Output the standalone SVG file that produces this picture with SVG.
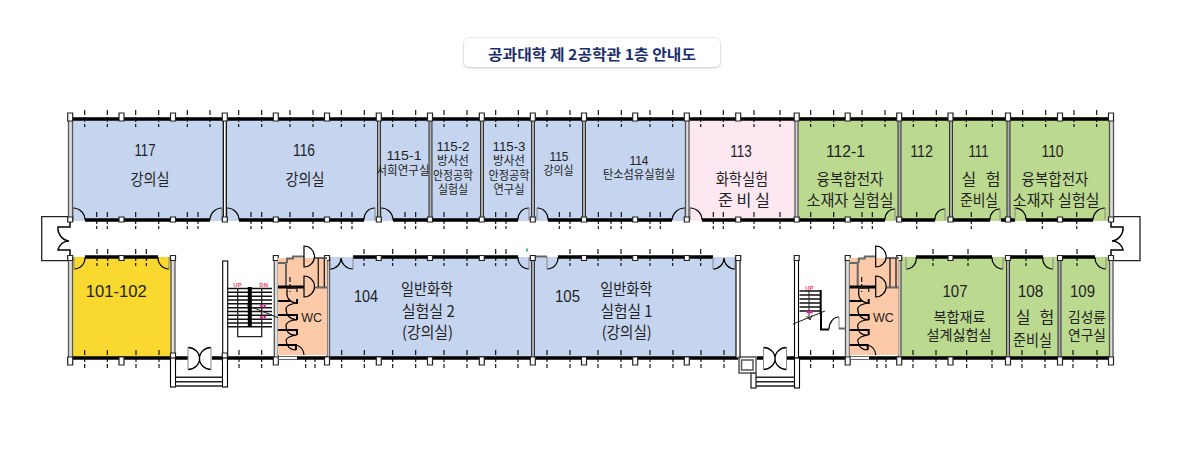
<svg xmlns="http://www.w3.org/2000/svg" width="1183" height="450" viewBox="0 0 1183 450">
<style>
text{font-family:"Noto Sans CJK KR","Liberation Sans",sans-serif;fill:#222;text-anchor:middle}
.l{font-size:16px}.m{font-size:14px}.s{font-size:12px}
.num{font-family:"Liberation Sans","Noto Sans CJK KR",sans-serif;font-size:16px}
.nums{font-family:"Liberation Sans","Noto Sans CJK KR",sans-serif;font-size:13px}
.blue{fill:#c6d5ef}.pink{fill:#fde8f2}.green{fill:#bbd98f}.yellow{fill:#f9d82f}.orange{fill:#fcc9a9}
.wall{fill:none;stroke:#000;stroke-width:3.4}
.tick{fill:none;stroke:#000;stroke-width:1.1;stroke-dasharray:5 2}
.box{fill:#fff;stroke:#222;stroke-width:1.2}
.part{fill:#aaa;stroke:#333;stroke-width:1}
.side{fill:#ddd;stroke:#555;stroke-width:1.3}
.post{fill:#fff;stroke:#000;stroke-width:1.1}
.door{fill:none;stroke:#000;stroke-width:1.2}
.leaf{fill:none;stroke:#888;stroke-width:1}
.thin{fill:none;stroke:#222;stroke-width:1.3}
.gw{fill:none;stroke:#666;stroke-width:2}
.bw{fill:none;stroke:#000;stroke-width:2}
.tread{fill:none;stroke:#111;stroke-width:1.4}
.red{font-family:"Liberation Sans",sans-serif;font-size:6px;font-weight:bold}
.pm{fill:#e0209a}
</style>
<defs>
<filter id="sh" x="-5%" y="-20%" width="110%" height="140%"><feDropShadow dx="0" dy="0.5" stdDeviation="1.2" flood-color="#888" flood-opacity="0.7"/></filter>
<g id="wc-plan">
<rect class="orange" x="278" y="258" width="49" height="97"/>
<path class="gw" d="M278 263H286V287"/>
<path class="gw" d="M287 263V258.500H293V256.500H304M315 258H327M315 287.500H327"/>
<path class="thin" d="M318.300 258V287M324.300 258V287"/>
<path class="bw" style="stroke-width:3" d="M278 287H304"/>
<path class="door" d="M304 246V267A10.500 10.500 0 0 0 304 246ZM304 276V297A10.500 10.500 0 0 0 304 276Z"/>
<path class="tick" d="M290 277V292"/>
<path class="thin" d="M287 292V288H297V292"/>
<path class="bw" d="M278 301H290M297 299V304M278 315H297V320M278 330H297V335M278 345H296V350"/>
<path class="door" d="M287 291Q286 302 297 303Q288 304 286 308Q286 319 297 320Q288 320 286 325Q286 336 297 335Q288 336 286 340Q287 350 296 350M296 345A11 11 0 0 1 304 355"/>
<path class="gw" style="stroke-width:1" d="M278 356.500H297M278 359.500H297"/>
</g>
</defs>

<g id="title">
<rect x="464" y="38" width="256" height="29" rx="5" fill="#fff" filter="url(#sh)"/>
<text x="592" y="60" font-size="15" font-weight="700" style="fill:#1b2f70" textLength="208" lengthAdjust="spacingAndGlyphs">공과대학 제 2공학관 1층 안내도</text>
</g>

<g id="room-fills">
<rect class="blue" x="72" y="118" width="616" height="103"/>
<rect class="pink" x="688" y="118" width="109" height="103"/>
<rect class="green" x="797" y="117" width="314" height="104"/>
<rect class="yellow" x="72" y="257" width="100" height="101"/>
<rect class="blue" x="329" y="257" width="409" height="101"/>
<rect class="green" x="901" y="257" width="209" height="101"/>
</g>

<g id="connectors">
<path class="wall" d="M68 119H1111"/>
<path class="wall" d="M85 220H210M239 220H364M393 220H518M548 220H672M702 220H885M897 220H935M950 220H990M1001 220H1015M1026 220H1093"/>
<path class="wall" d="M85 257H158M353 257H518M558 257H713M916 257H992M1007 257H1043M1057 257H1095"/>
<path class="wall" d="M68 358H188M212 358H274M297 358H738M757 358H763M787 358H847M869 358H1111"/>
<path class="tick" d="M84.700 110V127M107.300 110V127M135.700 110V127M158.700 110V127M187.300 110V127M210 110V127M238.700 110V127M261.700 110V127M290 110V127M313 110V127M341.300 110V127M364.300 110V127M392.700 110V127M415.700 110V127M444 110V127M467 110V127M495.700 110V127M518.300 110V127M547 110V127M570 110V127M598.300 110V127M621.300 110V127M650 110V127M672.700 110V127M700.700 110V127M723.300 110V127M754 110V127M780 110V127M810.700 110V127M833.700 110V127M862 110V127M885 110V127M913.300 110V127M936.300 110V127M966.300 110V127M992.300 110V127M1022.700 110V127M1045.700 110V127M1074 110V127M1096.700 110V127"/>
<path class="tick" d="M96.700 212V229M107.300 212V229M135.700 212V229M158.700 212V229M187.300 212V229M198 212V229M251 212V229M261.700 212V229M290 212V229M313 212V229M341.300 212V229M352 212V229M405 212V229M415.700 212V229M444 212V229M467 212V229M495.700 212V229M506 212V229M559.300 212V229M570 212V229M598.300 212V229M611 212V229M621.300 212V229M650 212V229M660.300 212V229M713.300 212V229M723.300 212V229M754 212V229M780 212V229M810.700 212V229M833.700 212V229M862 212V229M872.300 212V229M916.700 212V229M971.300 212V229M1042.300 212V229M1076.700 212V229"/>
<path class="tick" d="M97 249V266M107.700 249V266M135.700 249V266M146.300 249V266M364 249V266M392.700 249V266M415.700 249V266M444 249V266M467 249V266M495.700 249V266M506 249V266M570 249V266M598 249V266M621 249V266M650 249V266M672.700 249V266M700.700 249V266M933 249V266M968 249V266M1026 249V266M1077 249V266"/>
<path class="tick" d="M84.700 350V368M107.300 350V368M136 350V368M159 350V368M239 350V368M261.700 350V368M305.700 350V368M315 350V368M341.700 350V368M364.300 350V368M392.700 350V368M415.700 350V368M444 350V368M467 350V368M495.700 350V368M518 350V368M547 350V368M570 350V368M598 350V368M621 350V368M650 350V368M673 350V368M701 350V368M724 350V368M810.700 350V368M833.300 350V368M877 350V368M886 350V368M913 350V368M936 350V368M966.700 350V368M992 350V368M1022 350V368M1045 350V368M1073 350V368M1097 350V368"/>
<path class="door" d="M73 208A12 12 0 0 1 85 220M227 208A12 12 0 0 1 239 220M381 208A12 12 0 0 1 393 220M537 208A11 11 0 0 1 548 220M690 208A12 12 0 0 1 702 220M1015 208A11 11 0 0 1 1026 220M210 220A12 12 0 0 1 222 208M364 220A11 11 0 0 1 375 208M518 220A11 11 0 0 1 529 208M672 220A13 13 0 0 1 685 208M885 220A10 10 0 0 1 895 209M935 220A10 10 0 0 1 945 209M990 220A10 10 0 0 1 1000 209M1093 220A12 12 0 0 1 1105 208"/>
<path class="leaf" d="M73 208V220M227 208V220M381 208V220M537 208V220M690 208V220M1015 208V220M222 208V220M375 208V220M529 208V220M685 208V220M895 209V220M945 209V220M1000 209V220M1105 208V220"/>
<path class="door" d="M74 269A11 11 0 0 0 85 257M158 257A11 11 0 0 0 169 269M330 269A11 11 0 0 0 341 258M341 258A12 12 0 0 0 353 269M713 269A11 11 0 0 0 724 258M724 258A11 11 0 0 0 735 269M518 257A11 11 0 0 0 529 269M547 269A11 11 0 0 0 558 257M906 269A10 10 0 0 0 916 257M992 257A11 11 0 0 0 1003 269M1043 257A10 10 0 0 0 1053 269M1095 257A11 11 0 0 0 1106 269"/>
<path class="leaf" d="M74 257V269M169 257V269M330 257V269M353 257V269M713 257V269M735 257V269M529 257V269M547 257V269M906 257V269M1003 257V269M1053 257V269M1106 257V269"/>
<path class="gw" d="M534 256.500H547"/>
<rect x="526" y="248.500" width="2" height="3" fill="#3cc47c"/>
</g>

<g id="corridor-ends">
<path class="thin" d="M70 216.700H41.700V260.700H70"/>
<path class="door" style="stroke-width:1.500" d="M70 222V227H58A13 13 0 0 0 69 241A11 11 0 0 0 58 250H70V256"/>
<path class="thin" d="M1111 216.700H1140V260.700H1111"/>
<path class="door" style="stroke-width:1.500" d="M1111 222V227H1123A13 13 0 0 1 1112 241A11 11 0 0 1 1123 250H1111V256"/>
</g>

<g id="partitions">
<rect class="side" x="68.500" y="120" width="4" height="100"/>
<rect class="side" x="1109.500" y="120" width="4" height="100"/>
<rect class="box" x="223.300" y="120" width="3" height="99" style="stroke:#000"/>
<rect class="part" x="377.500" y="120" width="3" height="99"/>
<rect class="part" x="429" y="120" width="3" height="99"/>
<rect class="part" x="480.500" y="120" width="3" height="99"/>
<rect class="part" x="531.500" y="120" width="3" height="99"/>
<rect class="part" x="582.500" y="120" width="3" height="99"/>
<rect class="side" x="685.500" y="120" width="3.500" height="99"/>
<rect class="side" x="795" y="120" width="3" height="99"/>
<rect class="part" x="898" y="120" width="3" height="99"/>
<rect class="part" x="949.500" y="120" width="3" height="99"/>
<rect class="part" x="1007" y="120" width="3" height="99"/>
<rect class="side" x="68.500" y="259" width="4" height="99"/>
<rect class="side" x="171" y="259" width="4" height="99"/>
<rect class="post" x="222.700" y="261" width="5" height="97"/>
<rect class="side" x="274.300" y="259" width="4" height="99"/>
<rect class="side" x="327" y="259" width="2.500" height="99"/>
<rect class="part" x="531.500" y="259" width="3" height="99"/>
<rect class="post" x="736" y="259" width="4" height="99"/>
<rect class="post" x="794.500" y="259" width="4" height="99"/>
<rect class="side" x="845.500" y="259" width="4" height="99"/>
<rect class="side" x="898.500" y="259" width="2.500" height="99"/>
<rect class="part" x="1006.500" y="259" width="3" height="99"/>
<rect class="part" x="1058" y="259" width="3" height="99"/>
<rect class="side" x="1109.500" y="259" width="3.500" height="99"/>
</g>

<g id="posts">
<path class="box" d="M67.700 113h5v8h-5zM119 113h5v8h-5zM170.500 113h5v8h-5zM222.300 113h5v8h-5zM273.300 113h5v8h-5zM324.500 113h5v8h-5zM376.300 113h5v8h-5zM427.500 113h5v8h-5zM479.300 113h5v8h-5zM530.300 113h5v8h-5zM581.500 113h5v8h-5zM632.700 113h5v8h-5zM684.300 113h5v8h-5zM735.700 113h5v8h-5zM794.200 113h5v8h-5zM845.200 113h5v8h-5zM896.700 113h5v8h-5zM948 113h5v8h-5zM1005.500 113h5v8h-5zM1057.500 113h5v8h-5zM1108.500 113h5v8h-5z"/>
<path class="box" d="M67.700 217h5v5h-5zM119 217h5v5h-5zM170.500 217h5v5h-5zM222.300 217h5v5h-5zM273.300 217h5v5h-5zM324.500 217h5v5h-5zM376.300 217h5v5h-5zM427.500 217h5v5h-5zM479.300 217h5v5h-5zM530.300 217h5v5h-5zM581.500 217h5v5h-5zM632.700 217h5v5h-5zM684.300 217h5v5h-5zM735.700 217h5v5h-5zM794.200 217h5v5h-5zM845.200 217h5v5h-5zM896.700 217h5v5h-5zM948 217h5v5h-5zM1005.500 217h5v5h-5zM1057.500 217h5v5h-5zM1108.500 217h5v5h-5z"/>
<path class="box" d="M67.700 255.500h5v5h-5zM119 255.500h5v5h-5zM170.500 255.500h5v5h-5zM273.300 255.500h5v5h-5zM324.500 255.500h5v5h-5zM376.300 255.500h5v5h-5zM427.500 255.500h5v5h-5zM479.300 255.500h5v5h-5zM530.300 255.500h5v5h-5zM581.500 255.500h5v5h-5zM632.700 255.500h5v5h-5zM684.300 255.500h5v5h-5zM735.700 255.500h5v5h-5zM794.200 255.500h5v5h-5zM845.200 255.500h5v5h-5zM896.700 255.500h5v5h-5zM948 255.500h5v5h-5zM1005.500 255.500h5v5h-5zM1057.500 255.500h5v5h-5zM1108.500 255.500h5v5h-5z"/>
<path class="box" d="M67.700 357h5v8h-5zM119 357h5v8h-5zM170.500 353h5v8h-5zM222.300 353h5v8h-5zM273.300 357h5v8h-5zM324.500 357h5v8h-5zM376.300 357h5v8h-5zM427.500 357h5v8h-5zM479.300 357h5v8h-5zM530.300 357h5v8h-5zM581.500 357h5v8h-5zM632.700 357h5v8h-5zM684.300 357h5v8h-5zM845.200 357h5v8h-5zM896.700 357h5v8h-5zM948 357h5v8h-5zM1005.500 357h5v8h-5zM1057.500 357h5v8h-5zM1108.500 357h5v8h-5z"/>
</g>

<g id="entrance-west">
<rect class="post" x="170.500" y="358" width="5" height="29"/>
<rect class="post" x="222.500" y="358" width="5" height="29"/>
<path class="thin" style="stroke-width:1.500" d="M175 377.300H222M175 381.700H222M175 386H222"/>
<path class="door" style="stroke-width:1.300" d="M188 347.500A11.500 11 0 0 1 188 369.500M211 347.500A11.500 11 0 0 0 211 369.500"/>
<path class="leaf" d="M188 347.500V369.500M211 347.500V369.500"/>
</g>

<g id="entrance-east">
<rect class="post" x="751" y="373" width="5" height="15"/>
<rect class="post" x="794.500" y="358" width="5" height="30"/>
<path class="thin" style="stroke-width:1.500" d="M756 377.300H794M756 381.700H794M756 386H794"/>
<path class="door" style="stroke-width:1.300" d="M763.500 347.500A11.500 11 0 0 1 763.500 369.500M786.500 347.500A11.500 11 0 0 0 786.500 369.500"/>
<path class="leaf" d="M763.500 347.500V369.500M786.500 347.500V369.500"/>
<path fill="none" stroke="#555" stroke-width="1.500" d="M738 357H756V373H739V358M741.500 360V370H753V360Z"/>
</g>

<g id="stair-west">
<path class="tread" d="M228 288.500H272M228 292.300H272M228 296.200H272M228 300H272M228 303.800H272M228 307.700H272M228 311.500H272M228 315.300H272M228 319.200H272M228 323H272M228 326.800H272"/>
<path class="thin" d="M237.700 288V336.700H261.700V288"/>
<rect x="247.800" y="287" width="4" height="40" fill="#000"/>
<path class="thin" style="stroke-width:1" d="M246.700 305L278 317.700"/>
<rect class="pm" x="260" y="305" width="2.300" height="2.300"/><rect class="pm" x="263.500" y="305" width="2.300" height="2.300"/>
<rect class="pm" x="260" y="316" width="2.300" height="2.300"/><rect class="pm" x="263.500" y="316" width="2.300" height="2.300"/>
<text class="red" style="fill:#f04a5e" x="237.500" y="287">UP</text>
<text class="red" style="fill:#f04a5e" x="263.700" y="287">DN</text>
</g>

<g id="stair-east">
<path class="tread" d="M799.500 291H820M799.500 295H820M799.500 299H820M799.500 303H820M799.500 307H820M799.500 311H820"/>
<path class="bw" d="M820.700 290V315"/>
<path class="thin" style="stroke-width:1" d="M809 290V319M793 324L825 311M806.500 316L810 320L812 315"/>
<rect class="pm" x="806.700" y="311" width="6" height="2.300"/>
<path class="bw" d="M821 311V329.500H829"/>
<path class="door" d="M829 329A10 12 0 0 1 839 317"/>
<path class="leaf" d="M839 317V329"/>
<path class="gw" d="M839 328.500H846"/>
<text class="red" style="fill:#f04a5e" x="809.300" y="290">UP</text>
</g>

<g id="wc-west"><use href="#wc-plan"/><text x="311.700" y="321.500" font-size="12.500" style="font-family:'Liberation Sans',sans-serif">WC</text></g>
<g id="wc-east"><use href="#wc-plan" transform="translate(571.700 0)"/><text x="883.400" y="321.500" font-size="12.500" style="font-family:'Liberation Sans',sans-serif">WC</text></g>

<g id="room-117"><text class="num" x="145" y="156" textLength="21" lengthAdjust="spacingAndGlyphs">117</text><text class="l" x="150" y="185" textLength="39" lengthAdjust="spacingAndGlyphs">강의실</text></g>
<g id="room-116"><text class="num" x="304" y="156" textLength="22" lengthAdjust="spacingAndGlyphs">116</text><text class="l" x="305" y="185" textLength="39" lengthAdjust="spacingAndGlyphs">강의실</text></g>
<g id="room-115-1"><text class="nums" x="404" y="160" textLength="35" lengthAdjust="spacingAndGlyphs">115-1</text><text class="s" x="403" y="175" textLength="53" lengthAdjust="spacingAndGlyphs">서희연구실</text></g>
<g id="room-115-2"><text class="nums" x="453" y="151" textLength="33" lengthAdjust="spacingAndGlyphs">115-2</text><text class="s" x="453" y="165" textLength="32" lengthAdjust="spacingAndGlyphs">방사선</text><text class="s" x="453" y="180" textLength="40" lengthAdjust="spacingAndGlyphs">안정공학</text><text class="s" x="453" y="194" textLength="30" lengthAdjust="spacingAndGlyphs">실험실</text></g>
<g id="room-115-3"><text class="nums" x="509" y="151" textLength="33" lengthAdjust="spacingAndGlyphs">115-3</text><text class="s" x="509" y="165" textLength="32" lengthAdjust="spacingAndGlyphs">방사선</text><text class="s" x="509" y="180" textLength="41" lengthAdjust="spacingAndGlyphs">안정공학</text><text class="s" x="509" y="194" textLength="31" lengthAdjust="spacingAndGlyphs">연구실</text></g>
<g id="room-115"><text class="nums" x="559" y="161" textLength="19" lengthAdjust="spacingAndGlyphs">115</text><text class="s" x="558.500" y="175" textLength="30" lengthAdjust="spacingAndGlyphs">강의실</text></g>
<g id="room-114"><text class="nums" x="639" y="165" textLength="19" lengthAdjust="spacingAndGlyphs">114</text><text class="s" x="639" y="179" textLength="72" lengthAdjust="spacingAndGlyphs">탄소섬유실험실</text></g>
<g id="room-113"><text class="num" x="741" y="156.500" textLength="21.500" lengthAdjust="spacingAndGlyphs">113</text><text class="l" x="742" y="185" textLength="52.500" lengthAdjust="spacingAndGlyphs">화학실험</text><text class="l" x="744" y="206" textLength="52" lengthAdjust="spacingAndGlyphs">준 비 실</text></g>
<g id="room-112-1"><text class="num" x="845.500" y="156.500" textLength="39" lengthAdjust="spacingAndGlyphs">112-1</text><text class="l" x="850" y="185" textLength="67" lengthAdjust="spacingAndGlyphs">융복합전자</text><text class="l" x="850" y="206" textLength="87" lengthAdjust="spacingAndGlyphs">소재자 실험실</text></g>
<g id="room-112"><text class="num" x="921.500" y="156.500" textLength="22.500" lengthAdjust="spacingAndGlyphs">112</text></g>
<g id="room-111"><text class="num" x="978.500" y="156.500" textLength="20" lengthAdjust="spacingAndGlyphs">111</text><text class="l" x="981" y="185" textLength="39" lengthAdjust="spacing" xml:space="preserve">실  험</text><text class="l" x="979" y="206" textLength="38" lengthAdjust="spacingAndGlyphs">준비실</text></g>
<g id="room-110"><text class="num" x="1052.500" y="156.500" textLength="22" lengthAdjust="spacingAndGlyphs">110</text><text class="l" x="1055" y="185" textLength="67" lengthAdjust="spacingAndGlyphs">융복합전자</text><text class="l" x="1056" y="206" textLength="87" lengthAdjust="spacingAndGlyphs">소재자 실험실</text></g>
<g id="room-101-102"><text class="num" x="116.300" y="296.500" textLength="61" lengthAdjust="spacingAndGlyphs">101-102</text></g>
<g id="room-104"><text class="num" x="366" y="301.500" textLength="24" lengthAdjust="spacingAndGlyphs">104</text><text class="l" x="427" y="295" textLength="52" lengthAdjust="spacingAndGlyphs">일반화학</text><text class="l" x="428.300" y="317" textLength="53" lengthAdjust="spacingAndGlyphs">실험실 2</text><text class="l" x="427.500" y="338" textLength="51" lengthAdjust="spacingAndGlyphs">(강의실)</text></g>
<g id="room-105"><text class="num" x="567.500" y="301.500" textLength="25" lengthAdjust="spacingAndGlyphs">105</text><text class="l" x="626.300" y="295" textLength="52" lengthAdjust="spacingAndGlyphs">일반화학</text><text class="l" x="626.500" y="317" textLength="52" lengthAdjust="spacingAndGlyphs">실험실 1</text><text class="l" x="626.700" y="338" textLength="50" lengthAdjust="spacingAndGlyphs">(강의실)</text></g>
<g id="room-107"><text class="num" x="955" y="296.500" textLength="25" lengthAdjust="spacingAndGlyphs">107</text><text class="m" x="959.500" y="321.500" textLength="52" lengthAdjust="spacingAndGlyphs">복합재료</text><text class="m" x="959" y="340" textLength="65" lengthAdjust="spacingAndGlyphs">설계싫험실</text></g>
<g id="room-108"><text class="num" x="1030.500" y="296.500" textLength="25.500" lengthAdjust="spacingAndGlyphs">108</text><text class="l" x="1035" y="322.500" textLength="38.500" lengthAdjust="spacing" xml:space="preserve">실  험</text><text class="l" x="1032.500" y="346" textLength="39" lengthAdjust="spacingAndGlyphs">준비실</text></g>
<g id="room-109"><text class="num" x="1082.500" y="296.500" textLength="25" lengthAdjust="spacingAndGlyphs">109</text><text class="m" x="1087" y="321.500" textLength="38" lengthAdjust="spacingAndGlyphs">김성륜</text><text class="m" x="1087" y="340" textLength="38" lengthAdjust="spacingAndGlyphs">연구실</text></g>
</svg>
